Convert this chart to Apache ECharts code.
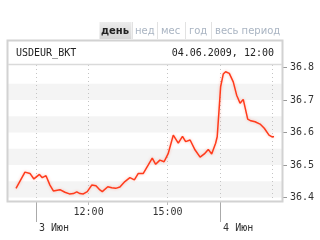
<!DOCTYPE html>
<html><head><meta charset="utf-8">
<script src="https://cdn.jsdelivr.net/npm/echarts@6/dist/echarts.min.js"></script>
<style>html,body{margin:0;padding:0;background:#fff}#c{width:320px;height:240px}</style>
</head><body><div id="c"></div>
<script>
// time in session hours: 3 Jun 10:00 = 10, 4 Jun session start 10:00 = 17
const times = [9.24,9.58,9.77,9.92,10.13,10.24,10.38,10.53,10.66,10.91,11.10,11.27,11.42,11.55,11.67,11.80,11.95,12.12,12.28,12.43,12.52,12.73,12.88,13.03,13.19,13.38,13.57,13.74,13.89,14.08,14.27,14.42,14.55,14.71,14.87,15.03,15.22,15.41,15.57,15.69,15.86,16.05,16.24,16.40,16.55,16.68,16.83,16.89,16.96,17.02,17.12,17.21,17.35,17.50,17.63,17.76,17.88,18.05,18.17,18.33,18.52,18.68,18.86,18.96,19.05];
const rates = [36.428,36.478,36.474,36.457,36.471,36.461,36.467,36.438,36.420,36.424,36.416,36.411,36.412,36.417,36.412,36.411,36.418,36.438,36.436,36.423,36.418,36.433,36.430,36.428,36.432,36.449,36.461,36.454,36.474,36.474,36.500,36.521,36.502,36.515,36.510,36.536,36.592,36.567,36.588,36.572,36.577,36.546,36.524,36.534,36.548,36.534,36.567,36.587,36.669,36.741,36.780,36.787,36.782,36.756,36.715,36.690,36.702,36.641,36.636,36.633,36.626,36.613,36.592,36.587,36.587];
const timeTicks = [12, 15];
const timeLabels = ['12:00', '15:00'];
const dayTicks = [10, 17];
const dayLabels = ['3 Июн', '4 Июн'];
const gridTimes = [10, 12, 15, 17, 19];
const yTicks = [36.4, 36.5, 36.6, 36.7, 36.8];
const bands = [[36.4, 36.45], [36.5, 36.55], [36.6, 36.65], [36.7, 36.75]];
const tabs = ['день', 'нед', 'мес', 'год', 'весь период'];
const symbol = 'USDEUR_BKT';
const stamp = '04.06.2009, 12:00';

const X_MIN = 8.935, X_MAX = 19.354, Y_MIN = 36.386, Y_MAX = 36.811;
const MONO = '"DejaVu Sans Mono", monospace';
const SANS = '"DejaVu Sans", sans-serif';

const chart = echarts.init(document.getElementById('c'));
const tabX = [101, 135, 161, 189, 215];
const tabGraphics = [];
tabGraphics.push({type:'rect', shape:{x:99.5,y:22,width:32,height:17},
  style:{fill:new echarts.graphic.LinearGradient(0,0,0,1,[{offset:0,color:'#ececec'},{offset:1,color:'#d6d6d6'}])}, z:100});
[132.5, 157.5, 185.5, 211.5].forEach(x => tabGraphics.push({type:'line', shape:{x1:x,y1:22,x2:x,y2:39}, style:{stroke:'#e2e2e2',lineWidth:1}, z:100}));
tabs.forEach((t, i) => tabGraphics.push({type:'text', x:tabX[i], y:31, z:101,
  style:{text:t, fill: i === 0 ? '#222' : '#a9b4c2', font: (i===0?'bold ':'') + '10px ' + SANS, verticalAlign:'middle', align:'left'}}));

chart.setOption({
  animation: false,
  backgroundColor: '#fff',
  grid: {left: 8, right: 38, top: 64, bottom: 38, containLabel: false},
  xAxis: [
    {type:'value', min:X_MIN, max:X_MAX, position:'bottom',
     axisLine:{show:false}, splitLine:{show:false},
     axisTick:{show:true, customValues:timeTicks, length:3, lineStyle:{color:'#bbb'}},
     axisLabel:{customValues:timeTicks, margin:5, color:'#333', fontFamily:MONO, fontSize:10,
       formatter: v => timeLabels[timeTicks.indexOf(v)] || ''}},
    {type:'value', min:X_MIN, max:X_MAX, position:'bottom',
     axisLine:{show:false}, splitLine:{show:false},
     axisTick:{show:true, customValues:dayTicks, length:20, lineStyle:{color:'#aaa'}},
     axisLabel:{customValues:dayTicks, margin:21, align:'left', padding:[0,0,0,3], color:'#333', fontFamily:MONO, fontSize:10,
       formatter: v => dayLabels[dayTicks.indexOf(v)] || ''}}
  ],
  yAxis: {type:'value', position:'right', min:Y_MIN, max:Y_MAX,
    axisLine:{show:false}, splitLine:{show:false},
    axisTick:{show:true, customValues:yTicks, length:5, lineStyle:{color:'#999'}},
    axisLabel:{customValues:yTicks, margin:8, color:'#333', fontFamily:MONO, fontSize:10,
      formatter: v => v.toFixed(1)}},
  series: [{
    type:'line', xAxisIndex:0, data: times.map((t, i) => [t, rates[i]]),
    showSymbol:false, symbol:'none',
    lineStyle:{color:'#ff3b1c', width:1.5, shadowColor:'rgba(255,90,60,0.4)', shadowBlur:3},
    markArea:{silent:true, itemStyle:{color:'#f4f4f4'}, data: bands.map(b => [{yAxis:b[0]}, {yAxis:b[1]}])},
    markLine:{silent:true, symbol:'none', label:{show:false},
      lineStyle:{type:[1,3], color:'#c4c4c4', width:1}, data: gridTimes.map(t => ({xAxis:t}))},
    z: 5
  }],
  graphic: [
    {type:'rect', shape:{x:7.5,y:40.5,width:275,height:161}, style:{fill:'none', stroke:'#d2d2d2', lineWidth:2}, z:100},
    {type:'line', shape:{x1:8,y1:64.5,x2:282,y2:64.5}, style:{stroke:'#dadada', lineWidth:1.5}, z:100},
    {type:'text', x:16, y:53, z:101, style:{text:symbol, fill:'#222', font:'10px ' + MONO, verticalAlign:'middle'}},
    {type:'text', x:274, y:53, z:101, style:{text:stamp, fill:'#222', font:'10px ' + MONO, verticalAlign:'middle', align:'right'}}
  ].concat(tabGraphics)
});
</script></body></html>
